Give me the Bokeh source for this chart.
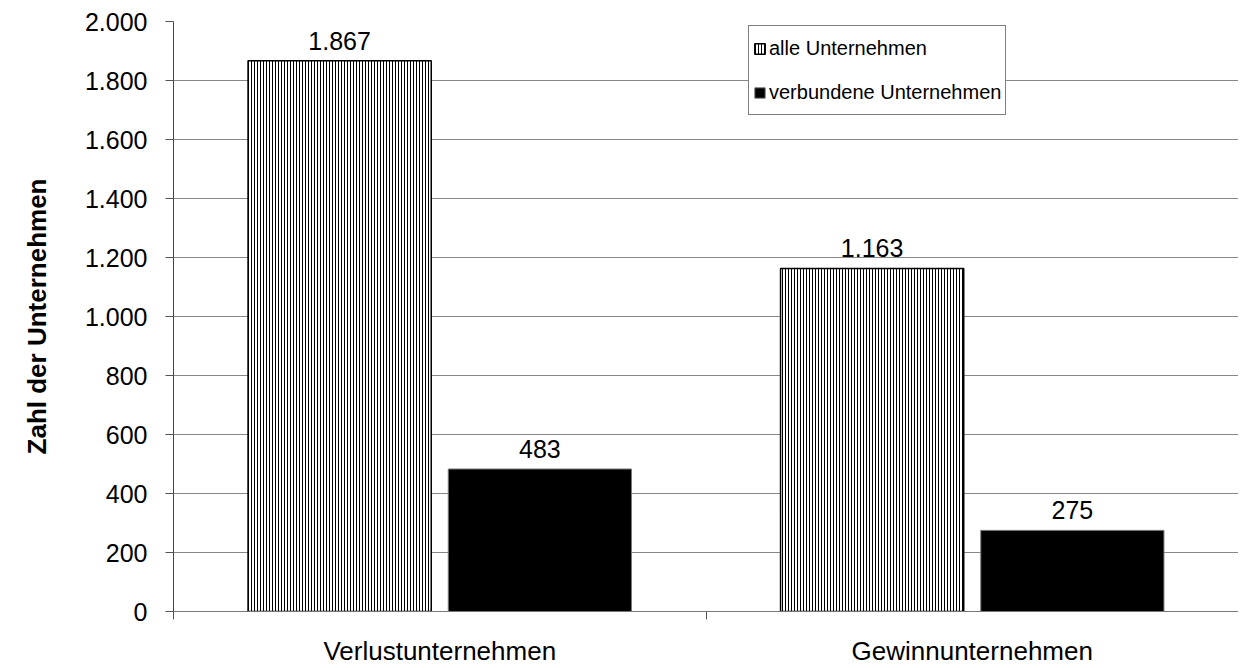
from bokeh.plotting import figure
from bokeh.models import ColumnDataSource, FixedTicker, Range1d, Legend, LegendItem
from bokeh.embed import file_html
from bokeh.resources import INLINE
from bokeh.core.properties import value

categories = ["Verlustunternehmen", "Gewinnunternehmen"]
alle = [1867, 1163]
verbunden = [483, 275]
alle_labels = ["1.867", "1.163"]
verbunden_labels = ["483", "275"]
y_ticks = [0, 200, 400, 600, 800, 1000, 1200, 1400, 1600, 1800, 2000]
y_tick_labels = ["0", "200", "400", "600", "800", "1.000", "1.200", "1.400", "1.600", "1.800", "2.000"]
series_names = ["alle Unternehmen", "verbundene Unternehmen"]

FONT = "Liberation Sans"
centers = [i + 0.5 for i in range(len(categories))]
off = 0.188
bw = 0.344

src_a = ColumnDataSource(dict(x=[c - off for c in centers], top=alle, lab=alle_labels))
src_v = ColumnDataSource(dict(x=[c + off for c in centers], top=verbunden, lab=verbunden_labels))

p = figure(width=1238, height=668, output_backend="svg", toolbar_location=None,
           x_range=Range1d(0, len(categories)), y_range=Range1d(0, 2000),
           min_border_left=173, min_border_right=0, min_border_top=21, min_border_bottom=57)
p.outline_line_color = None
p.background_fill_color = "white"

ra = p.vbar(x="x", top="top", width=bw, source=src_a, fill_color="white",
            line_color="black", line_width=1.5,
            hatch_pattern="vertical_line", hatch_color="black", hatch_scale=3, hatch_weight=1)
rv = p.vbar(x="x", top="top", width=bw, source=src_v, fill_color="black",
            line_color="#777777", line_width=1)

for src in (src_a, src_v):
    p.text(x="x", y="top", text="lab", source=src, text_align="center", text_baseline="bottom",
           y_offset=-11, text_font=value(FONT), text_font_size="25px", text_color="black")

# axes
p.xaxis.ticker = FixedTicker(ticks=centers, minor_ticks=[0, 1, 2])
p.xaxis.major_label_overrides = {c: n for c, n in zip(centers, categories)}
p.xaxis.major_tick_out = 0
p.xaxis.major_tick_in = 0
p.xaxis.minor_tick_out = 8
p.xaxis.minor_tick_in = 0
p.xaxis.minor_tick_line_color = "#555555"
p.xaxis.axis_line_color = "#777777"
p.xaxis.major_label_text_font = FONT
p.xaxis.major_label_text_font_size = "26px"
p.xaxis.major_label_text_color = "black"
p.xaxis.major_label_standoff = 16

p.yaxis.ticker = FixedTicker(ticks=y_ticks)
p.yaxis.major_label_overrides = {t: l for t, l in zip(y_ticks, y_tick_labels)}
p.yaxis.major_tick_out = 8
p.yaxis.major_tick_in = 0
p.yaxis.minor_tick_line_color = None
p.yaxis.axis_line_color = "#444444"
p.yaxis.major_tick_line_color = "#555555"
p.yaxis.major_label_text_font = FONT
p.yaxis.major_label_text_font_size = "25px"
p.yaxis.major_label_text_color = "black"
p.yaxis.major_label_standoff = 18
p.yaxis.axis_label = "Zahl der Unternehmen"
p.yaxis.axis_label_text_font = FONT
p.yaxis.axis_label_text_font_size = "26px"
p.yaxis.axis_label_text_font_style = "bold"
p.yaxis.axis_label_text_color = "black"
p.yaxis.axis_label_standoff = 30

p.xgrid.grid_line_color = None
p.ygrid.grid_line_color = "#888888"
p.ygrid.grid_line_width = 1

legend = Legend(items=[LegendItem(label=series_names[0], renderers=[ra]),
                       LegendItem(label=series_names[1], renderers=[rv])],
                location=(575, 496))
legend.label_text_font = FONT
legend.label_text_font_size = "20px"
legend.label_text_color = "black"
legend.glyph_width = 13
legend.glyph_height = 13
legend.label_height = 36
legend.spacing = 8
legend.padding = 4
legend.margin = 0
legend.label_standoff = 3
legend.border_line_color = "black"
legend.border_line_width = 1
legend.background_fill_alpha = 1
p.add_layout(legend, "center")

html = file_html(p, INLINE)
html = html.replace("</head>", "<style>html, body { margin: 0; padding: 0; overflow: hidden; }</style></head>", 1)
open("out.html", "w").write(html)
